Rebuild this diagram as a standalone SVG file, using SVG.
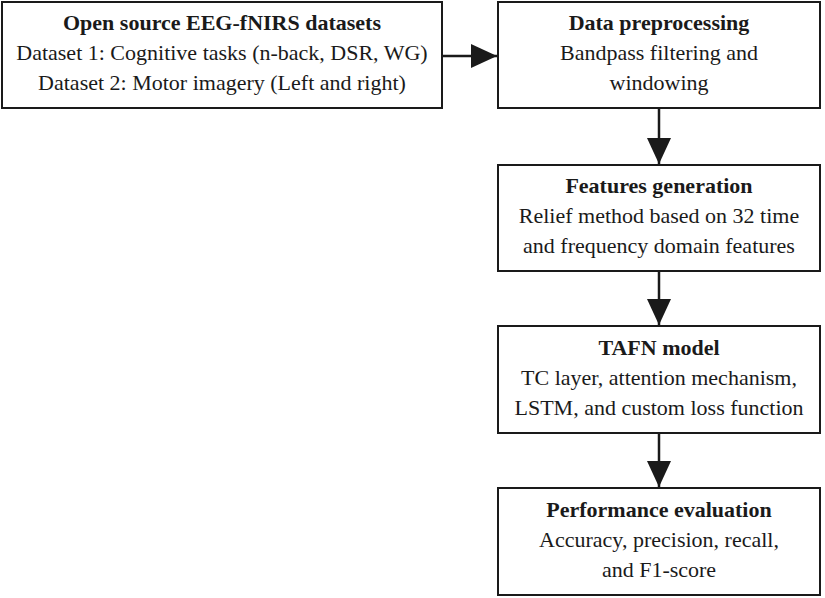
<svg xmlns="http://www.w3.org/2000/svg" width="825" height="598" viewBox="0 0 825 598">
<style>
.b{fill:#fff;stroke:#1a1a1a;stroke-width:2}
text{font-family:"Liberation Serif","Times New Roman","DejaVu Serif",serif;font-size:22px;fill:#1a1a1a;text-anchor:middle}
.t{font-weight:bold}
.c{stroke:#1a1a1a;stroke-width:2.5;fill:none}
</style>
<defs>
<marker id="h" viewBox="0 0 26 24" refX="26" refY="12" markerWidth="26" markerHeight="24" orient="auto" markerUnits="userSpaceOnUse"><path d="M0,0L26,12L0,24z" fill="#1a1a1a"/></marker></defs>
<g id="n1"><rect class="b" x="2" y="2" width="440" height="106"/>
<text class="t" x="222" y="30">Open source EEG-fNIRS datasets</text>
<text x="222" y="60">Dataset 1: Cognitive tasks (n-back, DSR, WG)</text>
<text x="222" y="90">Dataset 2: Motor imagery (Left and right)</text></g>
<g id="n2"><rect class="b" x="498" y="2" width="322" height="106"/>
<text class="t" x="659" y="30">Data preprocessing</text>
<text x="659" y="60">Bandpass filtering and</text>
<text x="659" y="90">windowing</text></g>
<g id="n3"><rect class="b" x="498" y="165" width="322" height="106"/>
<text class="t" x="659" y="193">Features generation</text>
<text x="659" y="223">Relief method based on 32 time</text>
<text x="659" y="253">and frequency domain features</text></g>
<g id="n4"><rect class="b" x="498" y="326" width="322" height="107"/>
<text class="t" x="659" y="355">TAFN model</text>
<text x="659" y="385">TC layer, attention mechanism,</text>
<text x="659" y="415">LSTM, and custom loss function</text></g>
<g id="n5"><rect class="b" x="498" y="488" width="322" height="107"/>
<text class="t" x="659" y="517">Performance evaluation</text>
<text x="659" y="547">Accuracy, precision, recall,</text>
<text x="659" y="577">and F1-score</text></g>
<g id="connectors">
<line class="c" x1="442" y1="56" x2="497" y2="56" marker-end="url(#h)"/>
<line class="c" x1="659" y1="108" x2="659" y2="164" marker-end="url(#h)"/>
<line class="c" x1="659" y1="271" x2="659" y2="325" marker-end="url(#h)"/>
<line class="c" x1="659" y1="433" x2="659" y2="487" marker-end="url(#h)"/>
</g>
</svg>
